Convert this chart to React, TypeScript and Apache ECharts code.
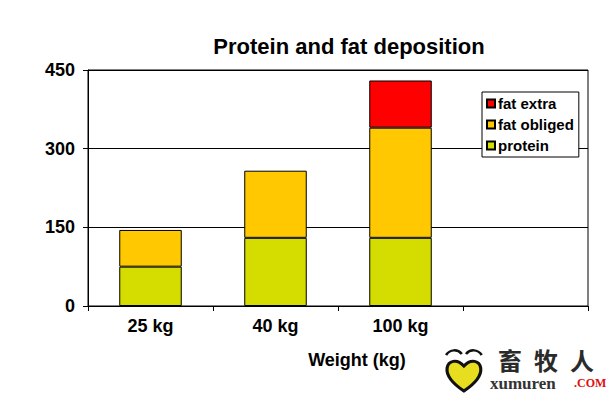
import React, { useEffect, useRef } from "react";
import * as echarts from "echarts";

const categories = ["25 kg", "40 kg", "100 kg", ""];
const protein = [75, 130, 130, null];
const fatObliged = [70, 128, 210, null];
const fatExtra = [null, null, 90, null];
const yTicks = { min: 0, max: 450, interval: 150 };

const FONT = "'Liberation Sans', Arial, sans-serif";

echarts.graphic.registerShape(
  "heartLogo",
  echarts.graphic.extendPath(
    "M18 34 C8 27 1 19 2 11 C3 4 11 1 18 9 C25 1 33 4 34 11 C35 19 28 27 18 34 Z",
    {}
  )
);
echarts.graphic.registerShape(
  "browL",
  echarts.graphic.extendPath("M1 6 C5 0 12 0 16 5", {})
);
echarts.graphic.registerShape(
  "browR",
  echarts.graphic.extendPath("M20 5 C24 0 31 0 35 6", {})
);

const cjk = (ch: string, x: number) => ({
  type: "text",
  x,
  y: 347,
  style: {
    text: ch,
    fontFamily: "'Noto Sans CJK SC'",
    fontSize: 24,
    lineHeight: 24,
    fontWeight: "bold",
    fill: "#2a2a2a",
    verticalAlign: "top",
  },
});

export default function App() {
  const ref = useRef<HTMLDivElement>(null);
  useEffect(() => {
    const chart = echarts.init(ref.current!, null, { renderer: "svg" });
    const bar = (name: string, data: any[], color: string) => ({
      name,
      type: "bar",
      stack: "a",
      data,
      barWidth: "50%",
      itemStyle: { color, borderColor: "#000", borderWidth: 1 },
    });
    chart.setOption({
      animation: false,
      backgroundColor: "#fff",
      title: {
        text: "Protein and fat deposition",
        left: 344,
        top: 30,
        textAlign: "center",
        textStyle: { fontFamily: FONT, fontSize: 22, fontWeight: "bold", color: "#000" },
      },
      grid: {
        left: 88,
        right: 27,
        top: 70,
        bottom: 87,
        show: true,
        borderColor: "#000",
        borderWidth: 1,
        backgroundColor: "transparent",
      },
      legend: {
        data: ["fat extra", "fat obliged", "protein"],
        orient: "vertical",
        left: 482,
        top: 92,
        padding: [4, 5, 4, 4],
        itemGap: 6,
        itemWidth: 8,
        itemHeight: 8,
        icon: "rect",
        borderColor: "#000",
        borderWidth: 1,
        borderRadius: 0,
        backgroundColor: "#fff",
        textStyle: { fontFamily: FONT, fontSize: 15, fontWeight: "bold", color: "#000", padding: [0, 0, 0, -2] },
      },
      xAxis: {
        type: "category",
        data: categories,
        name: "Weight (kg)",
        nameLocation: "middle",
        nameGap: 45,
        nameTextStyle: { fontFamily: FONT, fontSize: 18, fontWeight: "bold", color: "#000", padding: [0, 0, 0, 38] },
        axisLine: { lineStyle: { color: "#000", width: 1 } },
        axisTick: { show: true, length: 5, lineStyle: { color: "#000" } },
        axisLabel: { fontFamily: FONT, fontSize: 18, fontWeight: "bold", color: "#000", margin: 11 },
      },
      yAxis: {
        type: "value",
        min: yTicks.min,
        max: yTicks.max,
        interval: yTicks.interval,
        axisLine: { show: true, lineStyle: { color: "#000", width: 1 } },
        axisTick: { show: true, length: 5, lineStyle: { color: "#000" } },
        splitLine: { lineStyle: { color: "#000", width: 1 } },
        axisLabel: { fontFamily: FONT, fontSize: 18, fontWeight: "bold", color: "#000", margin: 13 },
      },
      series: [
        bar("protein", protein, "#D4DC00"),
        bar("fat obliged", fatObliged, "#FFC800"),
        bar("fat extra", fatExtra, "#FF0000"),
      ],
      graphic: [
        {
          type: "heartLogo",
          x: 445,
          y: 357,
          scaleX: 1.05,
          scaleY: 1.0,
          style: { fill: "#E6DE1E", stroke: "#111", lineWidth: 3 },
        },
        {
          type: "browL",
          x: 445,
          y: 349,
          scaleX: 1.05,
          style: { fill: null, stroke: "#111", lineWidth: 2.5 },
        },
        {
          type: "browR",
          x: 445,
          y: 349,
          scaleX: 1.05,
          style: { fill: null, stroke: "#111", lineWidth: 2.5 },
        },
        cjk("畜", 498),
        cjk("牧", 534),
        cjk("人", 570),
        {
          type: "text",
          x: 490,
          y: 391,
          style: {
            text: "xumuren",
            fontFamily: "'Liberation Serif', serif",
            fontSize: 17,
            lineHeight: 15,
            fontWeight: "bold",
            fill: "#333",
            verticalAlign: "bottom",
          },
        },
        {
          type: "text",
          x: 574,
          y: 389,
          style: {
            text: ".COM",
            fontFamily: "'Liberation Serif', serif",
            fontSize: 12,
            lineHeight: 12,
            fontWeight: "bold",
            fill: "#E01010",
            verticalAlign: "bottom",
          },
        },
      ],
    });
    return () => chart.dispose();
  }, []);
  return <div ref={ref} style={{ width: 615, height: 393, position: "absolute", left: 0, top: 0 }} />;
}
